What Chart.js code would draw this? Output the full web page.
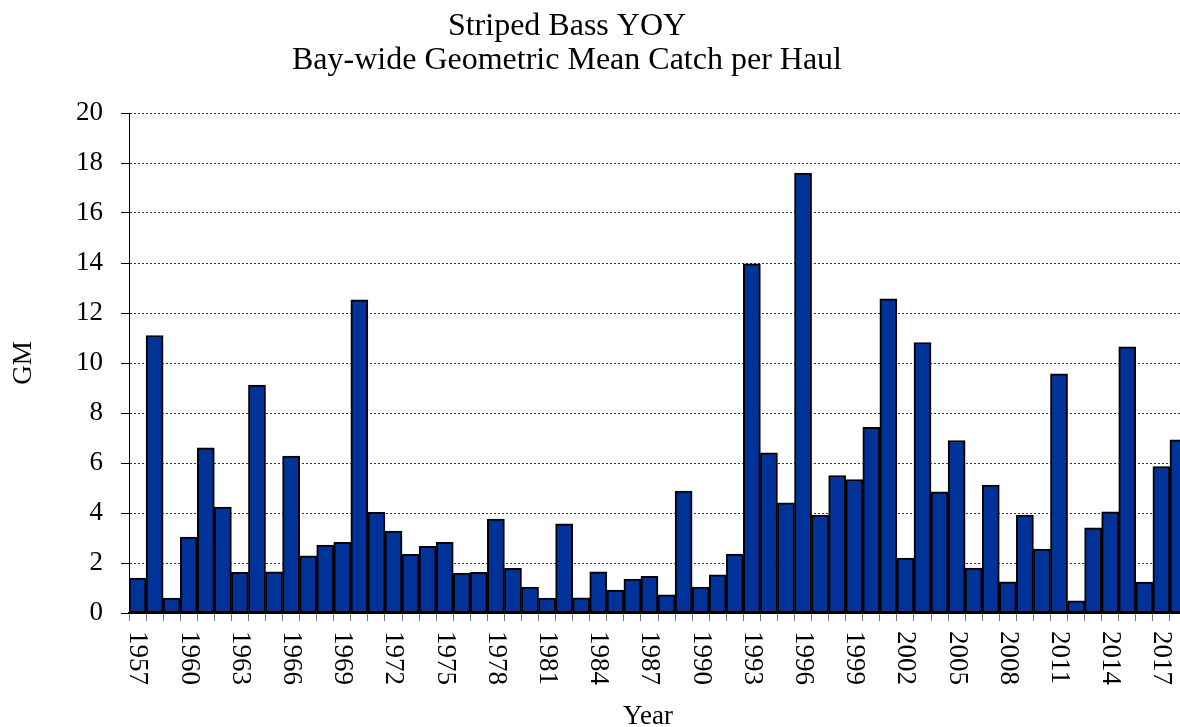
<!DOCTYPE html>
<html>
<head>
<meta charset="utf-8">
<script src="https://cdn.jsdelivr.net/npm/chart.js@4.4.1/dist/chart.umd.min.js"></script>
<style>
  html, body { margin: 0; padding: 0; background: #fff; overflow: hidden; }
  #wrap { width: 1180px; height: 727px; overflow: hidden; position: relative; }
  canvas { display: block; }
</style>
</head>
<body>
<div id="wrap"><canvas id="c" width="1190" height="727" style="width:1190px;height:727px;"></canvas></div>
<script>
const years = [
  '1957','1958','1959','1960','1961','1962','1963','1964','1965','1966',
  '1967','1968','1969','1970','1971','1972','1973','1974','1975','1976',
  '1977','1978','1979','1980','1981','1982','1983','1984','1985','1986',
  '1987','1988','1989','1990','1991','1992','1993','1994','1995','1996',
  '1997','1998','1999','2000','2001','2002','2003','2004','2005','2006',
  '2007','2008','2009','2010','2011','2012','2013','2014','2015','2016',
  '2017','2018'
];
const gmValues = [
  1.40, 11.10, 0.60, 3.04, 6.61, 4.24, 1.63, 9.12, 1.65, 6.28,
  2.29, 2.72, 2.83, 12.53, 4.03, 3.28, 2.35, 2.67, 2.83, 1.60,
  1.63, 3.76, 1.79, 1.04, 0.60, 3.57, 0.61, 1.65, 0.92, 1.36,
  1.47, 0.73, 4.88, 1.04, 1.53, 2.36, 13.97, 6.41, 4.41, 17.60,
  3.92, 5.50, 5.34, 7.43, 12.57, 2.20, 10.82, 4.85, 6.90, 1.80,
  5.12, 1.25, 3.92, 2.56, 9.57, 0.49, 3.41, 4.05, 10.65, 1.24,
  5.86, 6.93
];
const xTickLabels = ['1957','1960','1963','1966','1969','1972','1975','1978','1981','1984',
  '1987','1990','1993','1996','1999','2002','2005','2008','2011','2014','2017'];
const titleLines = ['Striped Bass YOY', 'Bay-wide Geometric Mean Catch per Haul'];
const xAxisTitle = 'Year';
const yAxisTitle = 'GM';

const FONT = '"Liberation Serif", "Times New Roman", serif';

const textPlugin = {
  id: 'textPlugin',
  afterDraw(chart) {
    const ctx = chart.ctx;
    const xs = chart.scales.x;
    const area = chart.chartArea;
    ctx.save();
    ctx.fillStyle = '#000';
    // Title
    ctx.font = '32px ' + FONT;
    ctx.textAlign = 'center';
    ctx.textBaseline = 'alphabetic';
    ctx.fillText(titleLines[0], 567, 35);
    ctx.fillText(titleLines[1], 567, 69);
    // X tick labels rotated clockwise
    ctx.font = '27px ' + FONT;
    years.forEach((y, i) => {
      if (xTickLabels.indexOf(y) === -1) return;
      const px = xs.getPixelForValue(i);
      ctx.save();
      ctx.translate(px, area.bottom + 18);
      ctx.rotate(Math.PI / 2);
      ctx.textAlign = 'left';
      ctx.textBaseline = 'middle';
      ctx.fillText(y, 0, 0);
      ctx.restore();
    });
    // Axis titles
    ctx.textAlign = 'center';
    ctx.textBaseline = 'alphabetic';
    ctx.fillText(xAxisTitle, 648, 724);
    ctx.save();
    ctx.translate(31, (area.top + area.bottom) / 2);
    ctx.rotate(-Math.PI / 2);
    ctx.textAlign = 'center';
    ctx.textBaseline = 'alphabetic';
    ctx.fillText(yAxisTitle, 0, 0);
    ctx.restore();
    ctx.restore();
  }
};

new Chart(document.getElementById('c'), {
  type: 'bar',
  data: {
    labels: years,
    datasets: [{
      data: gmValues,
      backgroundColor: '#003399',
      borderColor: '#000000',
      borderWidth: 2,
      borderSkipped: false,
      barPercentage: 1.0,
      categoryPercentage: 1.0
    }]
  },
  options: {
    responsive: false,
    animation: false,
    devicePixelRatio: 1,
    layout: { padding: { top: 113, left: 0, right: 3, bottom: 0 } },
    plugins: {
      legend: { display: false },
      title: { display: false },
      tooltip: { enabled: false }
    },
    scales: {
      x: {
        offset: true,
        grid: {
          display: true,
          offset: true,
          drawOnChartArea: false,
          drawTicks: true,
          tickLength: 8,
          tickColor: '#777'
        },
        border: { display: true, color: '#000', width: 2 },
        ticks: { display: false, autoSkip: false },
        afterFit(scale) { scale.height = 114; }
      },
      y: {
        min: 0,
        max: 20,
        ticks: {
          stepSize: 2,
          color: '#000',
          padding: 18,
          font: { family: FONT, size: 27 }
        },
        grid: {
          color: '#333',
          lineWidth: 1,
          drawTicks: true,
          tickLength: 8,
          tickColor: '#000',
          tickBorderDash: []
        },
        border: { display: true, color: '#000', width: 1, dash: [2, 2] },
        afterFit(scale) { scale.width = 129; }
      }
    }
  },
  plugins: [textPlugin]
});
</script>
</body>
</html>
